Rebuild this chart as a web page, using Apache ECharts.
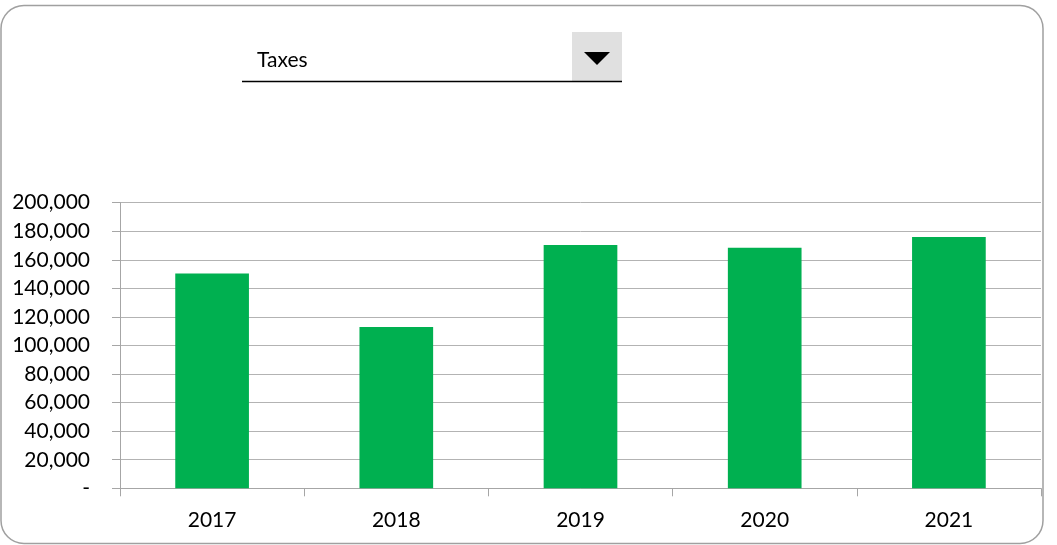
<!DOCTYPE html>
<html>
<head>
<meta charset="utf-8">
<script src="https://cdn.jsdelivr.net/npm/echarts@6/dist/echarts.min.js"></script>
<style>
html,body{margin:0;padding:0;background:#fff;}
#chart{width:1057px;height:545px;}
</style>
</head>
<body>
<div id="chart"></div>
<script>
const categories = ['2017', '2018', '2019', '2020', '2021'];
const taxes = [150500, 113000, 170400, 168500, 176000];
const selectedMetric = 'Taxes';

const FONT = 'Lato';
const chart = echarts.init(document.getElementById('chart'), null, {renderer: 'canvas'});
chart.setOption({
  animation: false,
  backgroundColor: '#ffffff',
  grid: {left: 120, right: 16, top: 202.7, bottom: 56.7, containLabel: false},
  xAxis: {
    type: 'category',
    data: categories,
    boundaryGap: true,
    axisLine: {show: true, lineStyle: {color: '#a6a6a6', width: 1}},
    axisTick: {show: true, length: 8, lineStyle: {color: '#a6a6a6'}},
    axisLabel: {color: '#000', fontFamily: FONT, fontSize: 21, margin: 21},
    splitLine: {show: false}
  },
  yAxis: {
    type: 'value',
    min: 0, max: 200000, interval: 20000,
    axisLine: {show: true, lineStyle: {color: '#a6a6a6', width: 1}},
    axisTick: {show: true, length: 8, lineStyle: {color: '#a6a6a6'}},
    axisLabel: {
      color: '#000', fontFamily: FONT, fontSize: 21, margin: 30,
      formatter: v => v === 0 ? '-' : v.toLocaleString('en-US')
    },
    splitLine: {show: true, lineStyle: {color: '#b3b3b3', width: 1}}
  },
  series: [{
    type: 'bar',
    data: taxes,
    barWidth: '40%',
    itemStyle: {color: '#00b050'}
  }],
  graphic: [
    {type: 'rect', shape: {x: 1, y: 5.5, width: 1042, height: 538, r: 23},
     style: {fill: 'none', stroke: '#a0a0a0', lineWidth: 1.5}, silent: true, z: 100},
    {type: 'rect', shape: {x: 572, y: 32, width: 50, height: 49},
     style: {fill: '#e0e0e0'}, silent: true},
    {type: 'polygon', shape: {points: [[584, 52], [610, 52], [597, 65]]},
     style: {fill: '#000'}, silent: true},
    {type: 'line', shape: {x1: 242, y1: 81.5, x2: 622, y2: 81.5},
     style: {stroke: '#000', lineWidth: 1.5}, silent: true},
    {type: 'text', x: 257, y: 60,
     style: {text: selectedMetric, fontFamily: FONT, fontSize: 21, fill: '#000', verticalAlign: 'middle', align: 'left'},
     silent: true}
  ]
});
</script>
</body>
</html>
